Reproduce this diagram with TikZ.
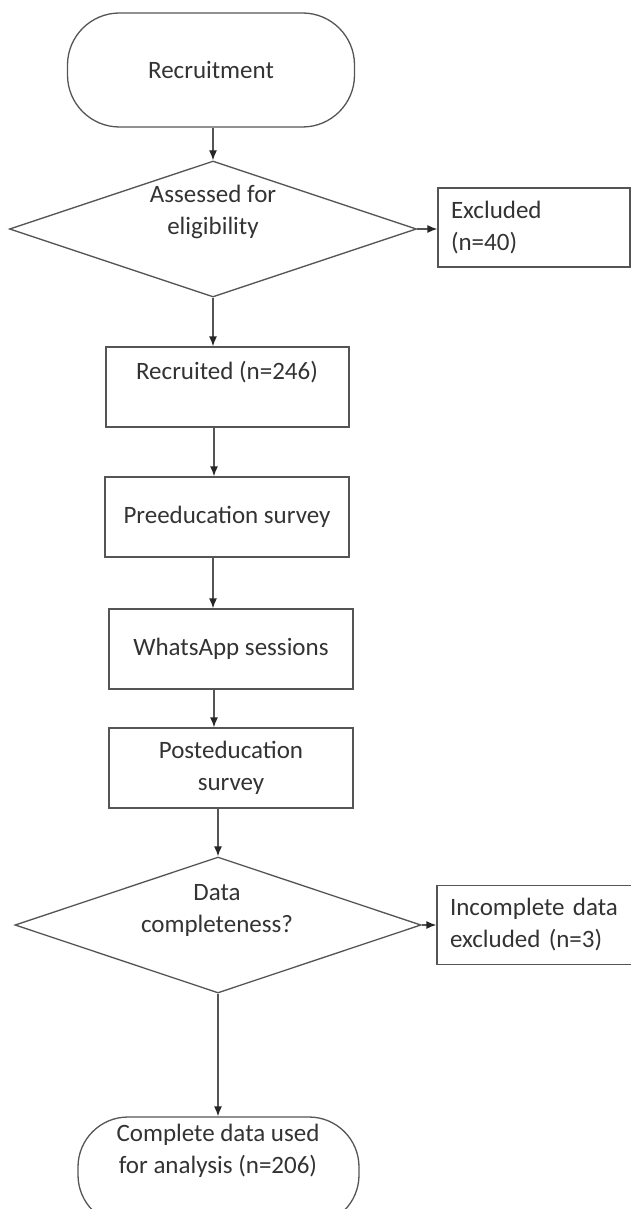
\documentclass[tikz,border=0pt]{standalone}
\usepackage{fontspec}
\setmainfont{Carlito}
\usetikzlibrary{shapes.geometric,arrows.meta}
\definecolor{linegray}{HTML}{555555}
\definecolor{textgray}{HTML}{333333}
\tikzset{
  base/.style={draw=linegray, line width=1.3pt, inner sep=0pt, text=textgray,
    font=\fontsize{25}{32}\selectfont},
  procbox/.style={base, rectangle, minimum width=244pt, minimum height=80pt},
  sidebox/.style={base, rectangle, align=left, inner sep=13pt, minimum height=77pt},
  termbox/.style={base, rectangle, rounded corners=#1},
  decide/.style={base, diamond},
  lbl/.style={text=textgray, font=\fontsize{25}{32}\selectfont, align=center, inner sep=0pt},
  flow/.style={draw=linegray, line width=1.3pt, -{Latex[length=10pt,width=8pt,color=black!85]}}
}
\begin{document}
\begin{tikzpicture}[x=1pt,y=-1pt]
\path[use as bounding box] (0,0) rectangle (631,1209);
\clip (0,0) rectangle (631,1209);

% nodes
\node[termbox=52pt, minimum width=287pt, minimum height=114pt] (rec) at (211,70) {Recruitment};
\node[decide, minimum width=407pt, minimum height=136pt] (d1) at (213,229) {};
\node[lbl] (d1t) at (213,212) {Assessed for\\eligibility};
\node[sidebox, text width=166pt] (exc) at (534,227.5) {Excluded\\(n=40)};
\node[procbox, minimum width=243pt] (recr) at (227.5,387) {};
\node[lbl] (recrt) at (227,372) {Recruited (n=246)};
\node[procbox] (pre) at (227,517) {Preeducation survey};
\node[procbox] (wa) at (231,649) {WhatsApp sessions};
\node[procbox, align=center] (post) at (231,768) {Posteducation\\survey};
\node[decide, minimum width=406pt, minimum height=136pt] (d2) at (218,925) {};
\node[lbl] (d2t) at (217,910) {Data\\completeness?};
\node[sidebox, text width=182pt, minimum height=76pt] (inc) at (541,925) {Incomplete data\\excluded (n=3)};
\node[termbox=50pt, minimum width=281pt, minimum height=108pt] (comp) at (218.5,1171) {};
\node[lbl] (compt) at (218,1151) {Complete data used\\for analysis (n=206)};

% connectors
\draw[flow] (rec.south -| d1.north) -- (d1.north);
\draw[flow] (d1.east) -- (d1.east -| exc.west);
\draw[flow] (d1.south) -- (d1.south |- recr.north);
\draw[flow] (recr.south -| 214,0) -- (pre.north -| 214,0);
\draw[flow] (pre.south -| 213,0) -- (wa.north -| 213,0);
\draw[flow] (wa.south -| 214,0) -- (post.north -| 214,0);
\draw[flow] (post.south -| d2.north) -- (d2.north);
\draw[flow] (d2.east) -- (d2.east -| inc.west);
\draw[flow] (d2.south) -- (d2.south |- comp.north);
\end{tikzpicture}
\end{document}
